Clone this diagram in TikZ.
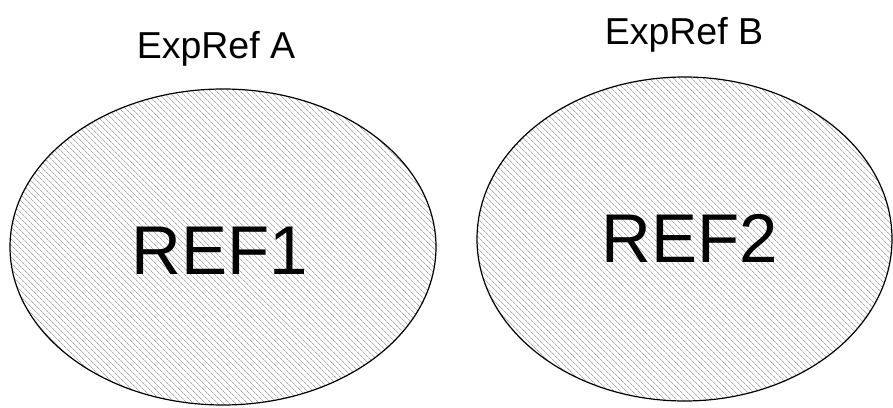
\documentclass[tikz,border=0pt]{standalone}
\usepackage{fontspec}
\setmainfont{Liberation Sans}
\usetikzlibrary{shapes.geometric,patterns.meta}
\tikzset{
  hatchell/.style={ellipse, draw=black, line width=1.2pt, inner sep=0pt,
    pattern={Lines[angle=-45, distance=4pt, line width=0.5pt]}, pattern color=black!50},
  titlelbl/.style={anchor=base, font=\fontsize{37.5}{40}\selectfont, inner sep=0pt},
  biglbl/.style={anchor=base, font=\fontsize{69}{72}\selectfont, inner sep=0pt}
}
\begin{document}
\begin{tikzpicture}[x=1pt,y=1pt]
\useasboundingbox[fill=white] (0,0) rectangle (893,407);
\node[hatchell, minimum width=426pt, minimum height=316pt] (e1) at (223,160) {};
\node[hatchell, minimum width=415pt, minimum height=324pt] (e2) at (684.5,168) {};
\node[titlelbl] (ta) at (216,348) {ExpRef A};
\node[titlelbl] (tb) at (684,362) {ExpRef B};
\node[biglbl] (r1) at (220,132) {REF1};
\node[biglbl] (r2) at (690,144) {REF2};
\end{tikzpicture}
\end{document}
